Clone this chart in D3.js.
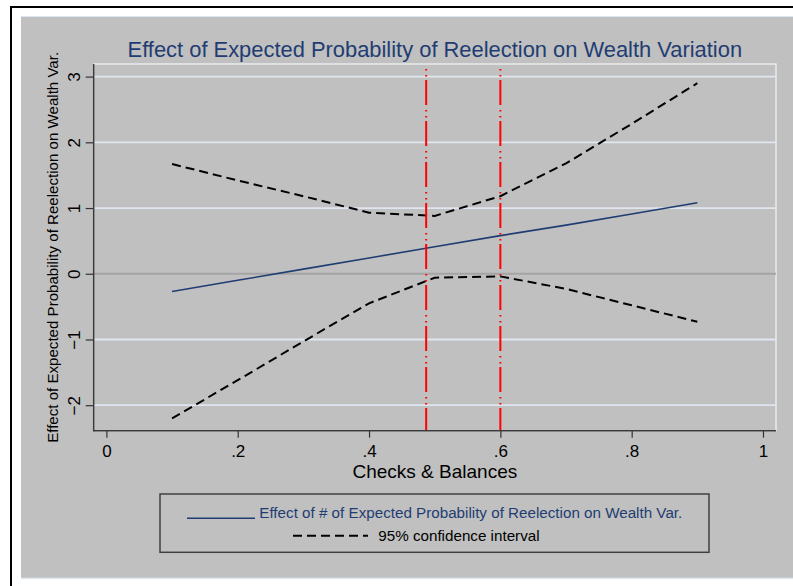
<!DOCTYPE html>
<html>
<head>
<meta charset="utf-8">
<script src="https://cdn.jsdelivr.net/npm/d3@7"></script>
<style>
  body { margin: 0; background: #fff; }
  text { font-family: "Liberation Sans", Arial, sans-serif; }
</style>
</head>
<body>
<script>
const width = 793;
const height = 586;

// data
const checks = [0.1, 0.2, 0.3, 0.4, 0.5, 0.6, 0.7, 0.8, 0.9];
const effect = [-0.27, -0.10, 0.07, 0.24, 0.41, 0.58, 0.74, 0.91, 1.08];
const upper = [1.67, 1.42, 1.18, 0.93, 0.88, 1.18, 1.68, 2.28, 2.90];
const lower = [-2.20, -1.62, -1.03, -0.45, -0.06, -0.04, -0.23, -0.48, -0.73];
const refLines = [0.487, 0.6];
const xTicks = [0, 0.2, 0.4, 0.6, 0.8, 1];
const yTicks = [-2, -1, 0, 1, 2, 3];

const titleText = "Effect of Expected Probability of Reelection on Wealth Variation";
const xTitle = "Checks & Balances";
const yTitle = "Effect of Expected Probability of Reelection on Wealth Var.";
const legendLabels = ["Effect of # of Expected Probability of Reelection on Wealth Var.", "95% confidence interval"];

const plot = { left: 93.7, right: 776, top: 64, bottom: 430.7 };

const navy = "#1f3d72";

let svg = d3.select("body").append("svg")
    .attr("width", width)
    .attr("height", height);

// outer frame
svg.append("rect").attr("x", 21).attr("y", 16).attr("width", width - 21).attr("height", 562)
    .attr("fill", "#c0c0c0");
svg.append("line").attr("x1", 21).attr("x2", width).attr("y1", 16.5).attr("y2", 16.5)
    .attr("stroke", "#dde6f0").attr("stroke-width", 1);
svg.append("line").attr("x1", 21).attr("x2", width).attr("y1", 578.5).attr("y2", 578.5)
    .attr("stroke", "#e2e9f1").attr("stroke-width", 1.5);
svg.append("line").attr("x1", 10).attr("x2", width).attr("y1", 7).attr("y2", 7)
    .attr("stroke", "#000").attr("stroke-width", 2);
svg.append("line").attr("x1", 11).attr("x2", 11).attr("y1", 6).attr("y2", height)
    .attr("stroke", "#000").attr("stroke-width", 2);

let xScale = d3.scaleLinear().domain([0, 1]).range([106.4, 763]);
let yScale = d3.scaleLinear().domain([-2, 3]).range([405.2, 76.6]);

// plot region border (white top / right)
svg.append("rect")
    .attr("x", plot.left).attr("y", plot.top)
    .attr("width", plot.right - plot.left).attr("height", plot.bottom - plot.top)
    .attr("fill", "#c0c0c0").attr("stroke", "#f4f6f9").attr("stroke-width", 1.2);

// gridlines
svg.append("g").selectAll("line")
    .data(yTicks)
    .enter().append("line")
    .attr("x1", plot.left).attr("x2", plot.right)
    .attr("y1", d => yScale(d)).attr("y2", d => yScale(d))
    .attr("stroke", d => d === 0 ? "#a4a4a4" : "#dfe6ef")
    .attr("stroke-width", 1.8);

let line = d3.line()
    .x(d => xScale(d[0]))
    .y(d => yScale(d[1]));

[upper, lower].forEach(s => {
    svg.append("path")
        .attr("fill", "none")
        .attr("stroke", "#000")
        .attr("stroke-width", 2)
        .attr("stroke-dasharray", "9,5")
        .attr("d", line(checks.map((c, i) => [c, s[i]])));
});

svg.append("path")
    .attr("fill", "none")
    .attr("stroke", navy)
    .attr("stroke-width", 1.6)
    .attr("d", line(checks.map((c, i) => [c, effect[i]])));

// reference lines
svg.append("g").selectAll("line")
    .data(refLines)
    .enter().append("line")
    .attr("x1", d => xScale(d)).attr("x2", d => xScale(d))
    .attr("y1", plot.top).attr("y2", plot.bottom)
    .attr("stroke", "#ff0000")
    .attr("stroke-width", 2)
    .attr("stroke-dasharray", "25,5,1.5,4.5,1.5,3.5")
    .attr("stroke-dashoffset", 25);

// axes
let yAxis = svg.append("g")
    .attr("transform", "translate(" + plot.left + ",0)")
    .call(d3.axisLeft(yScale).tickValues(yTicks).tickSize(8).tickPadding(0).tickFormat(d3.format("d")));
yAxis.select(".domain").remove();
yAxis.selectAll(".tick line").attr("stroke", "#333").attr("stroke-width", 1.2);
yAxis.selectAll(".tick text")
    .attr("x", null).attr("dy", null)
    .attr("text-anchor", "middle")
    .attr("transform", "translate(-13.5,0) rotate(-90)")
    .style("font-size", "17px")
    .attr("fill", "#000");

let xAxis = svg.append("g")
    .attr("transform", "translate(0," + plot.bottom + ")")
    .call(d3.axisBottom(xScale).tickValues(xTicks).tickSize(7)
        .tickFormat(d => (d === 0 || d === 1) ? String(d) : String(d).replace(/^0/, "")));
xAxis.select(".domain").remove();
xAxis.selectAll(".tick line").attr("stroke", "#333").attr("stroke-width", 1.2);
xAxis.selectAll(".tick text")
    .attr("y", 26.5).attr("dy", null)
    .style("font-size", "17px")
    .attr("fill", "#000");

svg.append("line").attr("x1", plot.left).attr("x2", plot.left).attr("y1", plot.top).attr("y2", plot.bottom + 0.7)
    .attr("stroke", "#3a3a3a").attr("stroke-width", 1.5);
svg.append("line").attr("x1", plot.left).attr("x2", plot.right).attr("y1", plot.bottom).attr("y2", plot.bottom)
    .attr("stroke", "#3a3a3a").attr("stroke-width", 1.5);

// titles
svg.append("text")
    .attr("x", (plot.left + plot.right) / 2).attr("y", 57.3)
    .attr("text-anchor", "middle")
    .style("font-size", "21.9px")
    .attr("fill", navy)
    .text(titleText);

svg.append("text")
    .attr("x", (plot.left + plot.right) / 2).attr("y", 477.5)
    .attr("text-anchor", "middle")
    .style("font-size", "19px")
    .attr("fill", "#000")
    .text(xTitle);

svg.append("text")
    .attr("text-anchor", "middle")
    .attr("transform", `translate(57.5, ${(plot.top + plot.bottom) / 2}) rotate(-90)`)
    .style("font-size", "15.1px")
    .attr("fill", "#000")
    .text(yTitle);

// legend
let legend = svg.append("g");
legend.append("rect")
    .attr("x", 160).attr("y", 494).attr("width", 549).attr("height", 58.3)
    .attr("fill", "none").attr("stroke", "#404040").attr("stroke-width", 1.5);
legend.append("line")
    .attr("x1", 187).attr("x2", 255).attr("y1", 518.3).attr("y2", 518.3)
    .attr("stroke", navy).attr("stroke-width", 1.4);
legend.append("text")
    .attr("x", 259.3).attr("y", 517.5)
    .style("font-size", "15.2px")
    .attr("fill", navy)
    .text(legendLabels[0]);
legend.append("line")
    .attr("x1", 293).attr("x2", 368).attr("y1", 535.7).attr("y2", 535.7)
    .attr("stroke", "#000").attr("stroke-width", 2)
    .attr("stroke-dasharray", "9,5");
legend.append("text")
    .attr("x", 378.3).attr("y", 541)
    .style("font-size", "15.2px")
    .attr("fill", "#000")
    .text(legendLabels[1]);
</script>
</body>
</html>
